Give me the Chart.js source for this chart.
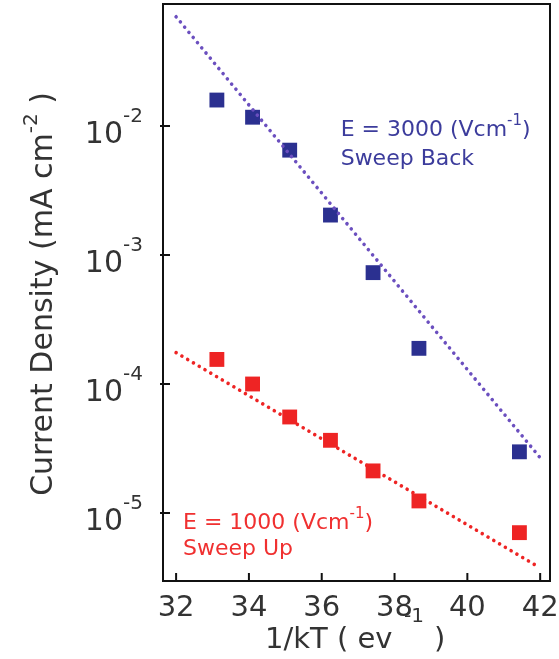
<!DOCTYPE html>
<html>
<head>
<meta charset="utf-8">
<script src="https://cdn.jsdelivr.net/npm/chart.js@4"></script>
<style>
  body { margin: 0; background: #fff; }
  canvas { display: block; }
</style>
</head>
<body>
<canvas id="chart" width="559" height="659"></canvas>
<script>
// 1/kT values (eV^-1) shared by both sweeps
const invKT = [33.12, 34.1, 35.12, 36.24, 37.41, 38.67, 41.43];
const sweepBack = [0.0159, 0.0117, 0.0065, 0.00204, 0.00073, 0.000189, 0.0000298];
const sweepUp = [0.000155, 0.0001, 0.0000555, 0.0000366, 0.0000212, 0.0000124, 0.00000704];

// dotted fit lines, end points
const fitBackX = [32, 42];
const fitBackY = [0.0703, 0.0000268];
const fitUpX = [32, 41.9];
const fitUpY = [0.000175, 0.0000039];

const xTicks = [32, 34, 36, 38, 40, 42];
const yTicks = [1e-5, 1e-4, 1e-3, 1e-2];
const yTickExp = ["-5", "-4", "-3", "-2"];

const FONT = "'DejaVu Sans', sans-serif";
const BLUE = "#2b3090";
const BLUE_LINE = "#6b4fbf";
const RED = "#ee2424";

function pts(xs, ys) {
  return xs.map((x, i) => ({ x: x, y: ys[i] }));
}

// text with a raised exponent part: parts = [[text, sup?], ...]
function drawParts(ctx, parts, x, y, size) {
  let cx = x;
  parts.forEach(([t, sup]) => {
    ctx.font = (sup ? Math.round(size * 0.68) : size) + "px " + FONT;
    ctx.fillText(t, cx, sup ? y - size * 0.5 : y);
    cx += ctx.measureText(t).width;
  });
  return cx;
}

function partsWidth(ctx, parts, size) {
  let w = 0;
  parts.forEach(([t, sup]) => {
    ctx.font = (sup ? Math.round(size * 0.68) : size) + "px " + FONT;
    w += ctx.measureText(t).width;
  });
  return w;
}

function noPad(scale) {
  scale.paddingLeft = 0;
  scale.paddingRight = 0;
  scale.paddingTop = 0;
  scale.paddingBottom = 0;
}

const decorations = {
  id: "decorations",
  afterDraw(chart) {
    const ctx = chart.ctx;
    const a = chart.chartArea;
    const xs = chart.scales.x;
    const ys = chart.scales.y;
    ctx.save();

    // frame
    ctx.strokeStyle = "#111";
    ctx.lineWidth = 2;
    ctx.strokeRect(a.left, a.top, a.right - a.left, a.bottom - a.top);

    // tick marks
    ctx.beginPath();
    xTicks.forEach(v => {
      const px = xs.getPixelForValue(v);
      ctx.moveTo(px, a.bottom);
      ctx.lineTo(px, a.bottom - 8);
    });
    yTicks.forEach(v => {
      const py = ys.getPixelForValue(v);
      ctx.moveTo(a.left - 3, py);
      ctx.lineTo(a.left + 7, py);
    });
    ctx.stroke();

    // y tick labels 10^n
    ctx.fillStyle = "#333";
    ctx.textBaseline = "alphabetic";
    ctx.textAlign = "left";
    yTicks.forEach((v, i) => {
      const py = ys.getPixelForValue(v);
      ctx.font = "30px " + FONT;
      const w = ctx.measureText("10").width;
      ctx.fillText("10", 123 - w, py + 17);
      ctx.font = "20px " + FONT;
      ctx.fillText(yTickExp[i], 123, py - 4);
    });

    // y title
    const yParts = [["Current Density (mA cm", false], ["-2", true], [" )", false]];
    ctx.save();
    ctx.translate(52, 294);
    ctx.rotate(-Math.PI / 2);
    const tw = partsWidth(ctx, yParts, 30);
    drawParts(ctx, yParts, -tw / 2, 0, 30);
    ctx.restore();

    // x title (exponent sits low, as in the original)
    ctx.font = "29px " + FONT;
    ctx.fillText("1/kT ( ev", 265, 648);
    ctx.fillText(")", 434, 648);
    ctx.font = "20px " + FONT;
    ctx.fillText("-1", 404, 622);

    // annotations
    const bx = xs.getPixelForValue(36.52);
    const by = ys.getPixelForValue(0.00836);
    ctx.fillStyle = "#3c3c9c";
    drawParts(ctx, [["E = 3000 (Vcm", false], ["-1", true], [")", false]], bx, by, 22);
    ctx.font = "22px " + FONT;
    ctx.fillText("Sweep Back", bx, by + 29);

    const rx = xs.getPixelForValue(32.19);
    const ry = ys.getPixelForValue(0.0000075);
    ctx.fillStyle = "#f03030";
    drawParts(ctx, [["E = 1000 (Vcm", false], ["-1", true], [")", false]], rx, ry, 22);
    ctx.font = "22px " + FONT;
    ctx.fillText("Sweep Up", rx, ry + 26);

    ctx.restore();
  }
};

const dotted = {
  showLine: true,
  borderWidth: 3.6,
  borderCapStyle: "round",
  borderDash: [0.01, 6.7],
  pointRadius: 0,
};

new Chart(document.getElementById("chart"), {
  type: "scatter",
  data: {
    datasets: [
      { ...dotted, data: pts(fitBackX, fitBackY), borderColor: BLUE_LINE },
      { ...dotted, data: pts(fitUpX, fitUpY), borderColor: RED },
      {
        data: pts(invKT, sweepBack),
        pointStyle: "rect",
        pointRadius: 10.5,
        backgroundColor: BLUE,
        borderWidth: 0,
      },
      {
        data: pts(invKT, sweepUp),
        pointStyle: "rect",
        pointRadius: 10.5,
        backgroundColor: RED,
        borderWidth: 0,
      },
    ],
  },
  options: {
    responsive: false,
    animation: false,
    devicePixelRatio: 1,
    layout: { autoPadding: false, padding: { top: 4, right: 9, left: 0, bottom: 0 } },
    plugins: {
      legend: { display: false },
      tooltip: { enabled: false },
    },
    scales: {
      x: {
        type: "linear",
        min: 31.64,
        max: 42.27,
        afterBuildTicks: (scale) => {
          scale.ticks = xTicks.map(v => ({ value: v }));
        },
        afterFit: (scale) => {
          scale.height = 78;
          noPad(scale);
        },
        grid: { display: false, drawTicks: false },
        border: { display: false },
        ticks: {
          color: "#333",
          font: { family: FONT, size: 29 },
          padding: 10,
          maxRotation: 0,
          autoSkip: false,
        },
      },
      y: {
        type: "logarithmic",
        min: 2.97e-6,
        max: 0.0883,
        afterBuildTicks: (scale) => {
          scale.ticks = yTicks.map(v => ({ value: v }));
        },
        afterFit: (scale) => {
          scale.width = 163;
          noPad(scale);
        },
        grid: { display: false, drawTicks: false },
        border: { display: false },
        ticks: { callback: () => "" },
      },
    },
  },
  plugins: [decorations],
});
</script>
</body>
</html>
